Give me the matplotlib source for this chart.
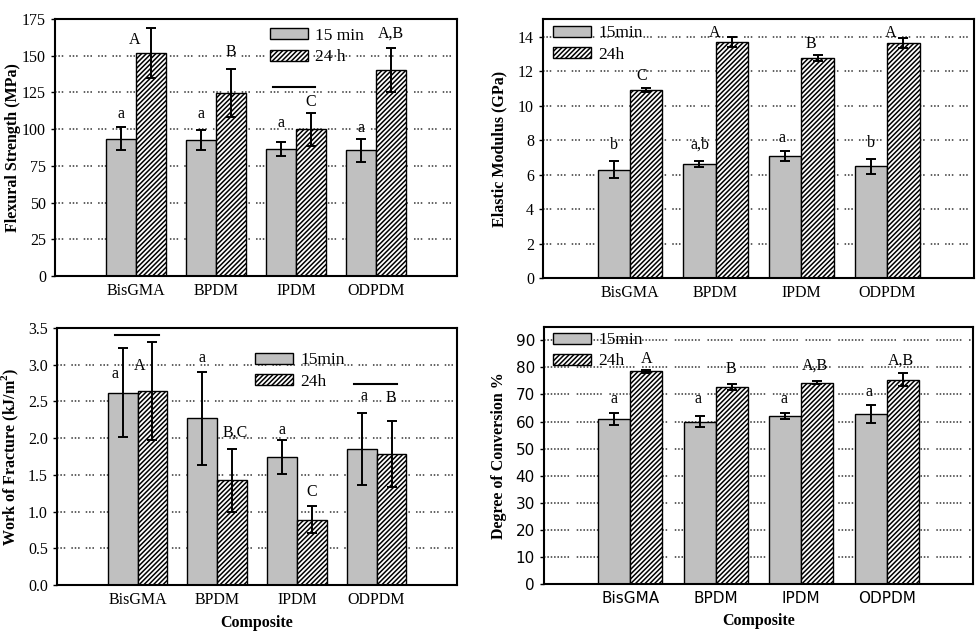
"""
Composite resin properties after 15 min and 24 h: four bar panels
(flexural strength, elastic modulus, work of fracture, degree of conversion).
"""
import matplotlib
matplotlib.use("Agg")
import matplotlib.pyplot as plt
import numpy as np

plt.rcParams["font.family"] = ["Liberation Serif", "DejaVu Serif"]
plt.rcParams["hatch.linewidth"] = 1.1
plt.rcParams["mathtext.fontset"] = "custom"
plt.rcParams["mathtext.bf"] = "Liberation Serif:bold"
plt.rcParams["mathtext.rm"] = "Liberation Serif"

GRAY = "#c0c0c0"
GRID = "#333333"

composites = ["BisGMA", "BPDM", "IPDM", "ODPDM"]

# flexural strength (MPa)
fs_15 = [93.6, 92.7, 86.4, 85.5]
fs_15_err = [8.0, 7.0, 5.0, 8.0]
fs_24 = [152.0, 124.5, 99.8, 140.2]
fs_24_err = [17.2, 16.5, 11.0, 15.1]
fs_lab_15 = ["a", "a", "a", "a"]
fs_lab_24 = ["A", "B", "C", "A,B"]

# elastic modulus (GPa)
em_15 = [6.29, 6.60, 7.09, 6.49]
em_15_err = [0.50, 0.17, 0.27, 0.43]
em_24 = [10.92, 13.71, 12.76, 13.65]
em_24_err = [0.12, 0.27, 0.18, 0.28]
em_lab_15 = ["b", "a,b", "a", "b"]
em_lab_24 = ["C", "A", "B", "A"]

# work of fracture (kJ/m2)
wf_15 = [2.62, 2.27, 1.74, 1.85]
wf_15_err = [0.61, 0.63, 0.23, 0.49]
wf_24 = [2.645, 1.425, 0.89, 1.79]
wf_24_err = [0.67, 0.43, 0.185, 0.45]
wf_lab_15 = ["a", "a", "a", "a"]
wf_lab_24 = ["A", "B,C", "C", "B"]

# degree of conversion (%)
dc_15 = [60.9, 60.0, 62.1, 62.8]
dc_15_err = [2.2, 2.1, 1.1, 3.4]
dc_24 = [78.5, 72.7, 74.4, 75.5]
dc_24_err = [0.4, 1.2, 0.5, 2.3]
dc_lab_15 = ["a", "a", "a", "a"]
dc_lab_24 = ["A", "B", "A,B", "A,B"]

# where the significance letters sit: (x offset from category, y in data units)
fs_pos_15 = [(-0.19, 110), (-0.19, 110), (-0.19, 104.5), (-0.19, 101)]
fs_pos_24 = [(-0.02, 161), (0.19, 152.5), (0.18, 118.4), (0.18, 164.8)]
em_pos_15 = [(-0.18, 7.75), (-0.186, 7.75), (-0.23, 8.13), (-0.19, 7.84)]
em_pos_24 = [(0.14, 11.75), (-0.01, 14.23), (0.11, 13.6), (0.04, 14.23)]
wf_pos_15 = [(-0.28, 2.87), (-0.187, 3.09), (-0.187, 2.11), (-0.158, 2.57)]
wf_pos_24 = [(0.03, 2.98), (0.22, 2.08), (0.18, 1.27), (0.174, 2.55)]
dc_pos_15 = [(-0.195, 68.3), (-0.206, 68.3), (-0.2, 68.3), (-0.206, 70.9)]
dc_pos_24 = [(0.187, 83.2), (0.175, 79.4), (0.16, 80.5), (0.17, 82.6)]

# bracket lines joining groups that do not differ: (category, x0, x1, y)
fs_lines = [(2, -0.283, 0.2375, 128.4)]
wf_lines = [(0, -0.28, 0.27, 3.40), (3, -0.28, 0.257, 2.735)]

W = 0.375
DASH_A = (0, (1, 1.2, 1, 1.2, 1, 4.0))
DASH_B = (0, (1, 1.2, 1, 1.2, 1, 1.2, 1, 1.2, 1, 1.2, 1, 1.2, 1, 1.2, 1, 5))


def panel(fig, rect, v15, e15, v24, e24, lab15, lab24, pos15, pos24,
          ylim, yticks, ylabel, leg_xy, leg15, leg24, dash,
          tickfont=None, ticklabels=None, xlabel=None, lines=()):
    ax = fig.add_axes(rect)
    x = np.arange(len(composites))
    ax.set_axisbelow(True)
    for t in yticks[1:]:
        ax.axhline(t, color=GRID, lw=1.1, linestyle=dash, zorder=0)
    b1 = ax.bar(x - W / 2, v15, W, color=GRAY, edgecolor="black", lw=1.0,
                label=leg15, zorder=2)
    b2 = ax.bar(x + W / 2, v24, W, color="white", edgecolor="black", lw=1.0,
                hatch="///////", label=leg24, zorder=2)
    ax.errorbar(x - W / 2, v15, yerr=e15, fmt="none", ecolor="black",
                elinewidth=1.4, capsize=3.5, capthick=1.4, zorder=3)
    ax.errorbar(x + W / 2, v24, yerr=e24, fmt="none", ecolor="black",
                elinewidth=1.4, capsize=3.5, capthick=1.4, zorder=3)
    for i in range(len(composites)):
        ax.text(i + pos15[i][0], pos15[i][1], lab15[i], ha="center",
                va="center", fontsize=11.5)
        ax.text(i + pos24[i][0], pos24[i][1], lab24[i], ha="center",
                va="center", fontsize=11.5)
    for c, x0, x1, y in lines:
        ax.plot([c + x0, c + x1], [y, y], color="black", lw=1.5, zorder=3)
    ax.set_xlim(-1.01, 4.01)
    ax.set_ylim(*ylim)
    ax.set_yticks(yticks)
    ax.set_xticks(x)
    ax.set_xticklabels(composites)
    if ticklabels is not None:
        ax.set_yticklabels(ticklabels)
    ax.tick_params(axis="x", length=0, pad=5, labelsize=11.5)
    ax.tick_params(axis="y", length=3, width=1, direction="out", labelsize=11.5)
    if tickfont:
        for lbl in ax.get_xticklabels() + ax.get_yticklabels():
            lbl.set_fontfamily(tickfont)
            lbl.set_fontsize(11)
    for s in ax.spines.values():
        s.set_linewidth(1.5)
    ax.set_ylabel(ylabel, fontsize=11.5, fontweight="bold")
    if xlabel:
        ax.set_xlabel(xlabel, fontsize=11.5, fontweight="bold", labelpad=5)
    ax.legend(handles=[b1, b2], loc="upper left", bbox_to_anchor=leg_xy,
              frameon=False, borderaxespad=0, borderpad=0, fontsize=12.5,
              handlelength=2.2, handleheight=0.6, handletextpad=0.4,
              labelspacing=0.3)
    return ax


fig = plt.figure(figsize=(9.8, 6.38), dpi=100)

a1 = panel(fig, [0.0561, 0.5674, 0.4102, 0.4028], fs_15, fs_15_err, fs_24,
           fs_24_err, fs_lab_15, fs_lab_24, fs_pos_15, fs_pos_24,
           (0, 175), np.arange(0, 176, 25), "Flexural Strength (MPa)",
           (0.535, 0.965), "15 min", "24 h", DASH_A, lines=fs_lines)
a1.yaxis.set_label_coords(-0.085, 0.5)

a2 = panel(fig, [0.5541, 0.5643, 0.4398, 0.406], em_15, em_15_err, em_24,
           em_24_err, em_lab_15, em_lab_24, em_pos_15, em_pos_24,
           (0, 15.05), np.arange(0, 15, 2), "Elastic Modulus (GPa)",
           (0.023, 0.975), "15min", "24h", DASH_A)
a2.yaxis.set_label_coords(-0.083, 0.5)

a3 = panel(fig, [0.0582, 0.0831, 0.4082, 0.4028], wf_15, wf_15_err, wf_24,
           wf_24_err, wf_lab_15, wf_lab_24, wf_pos_15, wf_pos_24,
           (0, 3.5), np.arange(0, 3.51, 0.5), r"Work of Fracture (kJ/m$^\mathbf{2}$)",
           (0.495, 0.905), "15min", "24h", DASH_A,
           ticklabels=["0.0", "0.5", "1.0", "1.5", "2.0", "2.5", "3.0", "3.5"],
           xlabel="Composite", lines=wf_lines)
a3.yaxis.set_label_coords(-0.09, 0.5)

a4 = panel(fig, [0.5551, 0.0846, 0.4378, 0.4028], dc_15, dc_15_err, dc_24,
           dc_24_err, dc_lab_15, dc_lab_24, dc_pos_15, dc_pos_24,
           (0, 94.9), np.arange(0, 91, 10), "Degree of Conversion %",
           (0.021, 0.98), "15min", "24h", DASH_B, tickfont="DejaVu Sans",
           xlabel="Composite")
a4.yaxis.set_label_coords(-0.086, 0.5)

fig.savefig("out.png", dpi=100)
